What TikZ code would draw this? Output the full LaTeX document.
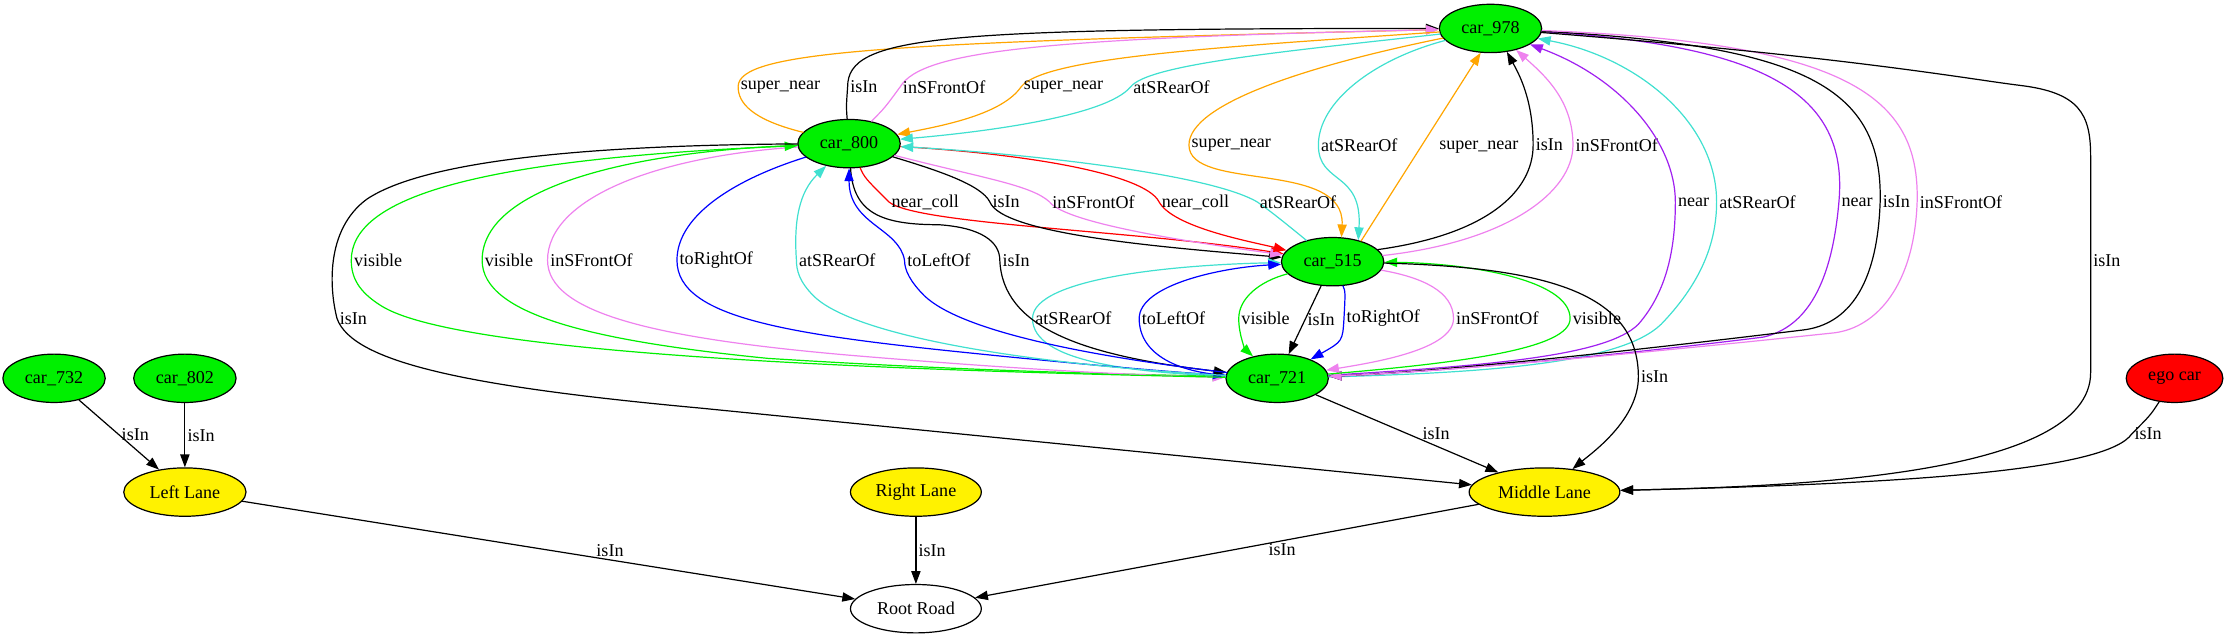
\documentclass[tikz,border=0pt]{standalone}
\usepackage{fontspec}
\setmainfont{Liberation Serif}
\usepackage{xcolor}
\usetikzlibrary{shapes.geometric,arrows.meta}
\definecolor{gvgreen}{RGB}{0,240,0}
\definecolor{gvorange}{RGB}{255,165,0}
\definecolor{gvviolet}{RGB}{238,130,238}
\definecolor{gvturq}{RGB}{64,224,208}
\definecolor{gvpurple}{RGB}{160,32,240}

\begin{document}
\begin{tikzpicture}[x=1pt,y=-1pt,line cap=round,line join=round,>={Triangle[length=9pt,width=6.5pt]},font=\fontsize{12.7}{15}\selectfont,
  car/.style={ellipse,draw,line width=0.85pt,fill=gvgreen,minimum width=72pt,minimum height=34pt,inner sep=0pt},
  lane/.style={ellipse,draw,line width=0.85pt,fill=yellow,minimum height=34pt,inner sep=0pt},
  e/.style={->,line width=0.85pt},
  lbl/.style={inner sep=1.5pt,text=black}]
\useasboundingbox (0,0) rectangle (1568,449);
% nodes
\node[car] (c978) at (1048,20) {car\_978};
\node[car] (c800) at (597,101) {car\_800};
\node[car] (c515) at (937,184) {car\_515};
\node[car] (c721) at (898,266) {car\_721};
\node[car] (c732) at (38,266) {car\_732};
\node[car] (c802) at (130,266) {car\_802};
\node[car,fill=red,minimum width=68pt] (cego) at (1529,266) {ego car};
\node[lane,minimum width=86pt] (lleft) at (130,346) {Left Lane};
\node[lane,minimum width=92pt] (lright) at (644,346) {Right Lane};
\node[lane,minimum width=106pt] (lmid) at (1086,346) {Middle Lane};
\node[lane,fill=white,minimum width=92pt] (root) at (644,428) {Root Road};
% car_800 -> car_978
\draw[e,gvorange] (c800) .. controls (528,84) and (519,72) .. (519,61) node[lbl,right]{super\_near} .. controls (519,36) and (620,30) .. (c978);
\draw[e] (c800) .. controls (595,75) .. (596,61) node[lbl,right]{isIn} .. controls (596,25) and (660,20) .. (c978);
\draw[e,gvviolet] (c800) .. controls (622,76) .. (633,61) node[lbl,right]{inSFrontOf} .. controls (648,36) and (730,27) .. (c978);
% car_978 -> car_800
\draw[e,gvorange] (c978) .. controls (860,33) and (735,40) .. (718,61) node[lbl,right]{super\_near} .. controls (705,80) and (665,88) .. (c800);
\draw[e,gvturq] (c978) .. controls (905,36) and (808,45) .. (795,61) node[lbl,right]{atSRearOf} .. controls (778,82) and (690,93) .. (c800);
% car_978 -> car_515
\draw[e,gvorange] (c978) .. controls (925,45) and (836,72) .. (836,102) node[lbl,right]{super\_near} .. controls (836,135) and (946,112) .. (c515.70);
\draw[e,gvturq] (c978) .. controls (965,42) and (927,72) .. (927,102) node[lbl,right]{atSRearOf} .. controls (927,130) and (958,120) .. (c515.40);
% car_515 -> car_978
\draw[e,gvorange] (c515.36) -- node[lbl,right=11pt]{super\_near} (c978.-112);
\draw[e] (c515.15) .. controls (1045,165) and (1078,135) .. (1078,102) node[lbl,right]{isIn} .. controls (1078,70) and (1068,52) .. (c978.-55);
\draw[e,gvviolet] (c515.7) .. controls (1060,170) and (1106,135) .. (1106,102) node[lbl,right]{inSFrontOf} .. controls (1106,70) and (1085,52) .. (c978.-40);
% car_800 -> car_515
\draw[e,red] (c800) .. controls (608,125) .. (625,142) node[lbl,right]{near\_coll} .. controls (645,158) and (800,162) .. (c515);
\draw[e] (c800) .. controls (660,120) and (690,130) .. (696,142) node[lbl,right]{isIn} .. controls (705,165) and (820,174) .. (c515);
\draw[e,gvviolet] (c800) .. controls (690,125) and (725,130) .. (738,142) node[lbl,right]{inSFrontOf} .. controls (750,158) and (850,172) .. (c515);
\draw[e,red] (c800) .. controls (720,108) and (805,122) .. (815,142) node[lbl,right]{near\_coll} .. controls (825,160) and (880,170) .. (c515);
% car_515 -> car_800
\draw[e,gvturq] (c515) .. controls (910,162) and (893,148) .. (884,142) node[lbl,right]{atSRearOf} .. controls (850,122) and (720,108) .. (c800);
% car_721 -> car_978
\draw[e,gvpurple] (c721) .. controls (1050,257) and (1130,250) .. (1152,228) .. controls (1172,205) and (1178,175) .. (1178,142) node[lbl,right]{near} .. controls (1178,100) and (1140,55) .. (c978.-22);
\draw[e,gvturq] (c721) .. controls (1050,262) and (1140,255) .. (1168,228) .. controls (1195,200) and (1207,172) .. (1207,142) node[lbl,right]{atSRearOf} .. controls (1207,85) and (1150,40) .. (c978.-12);
% car_978 -> car_721
\draw[e,gvpurple] (c978) .. controls (1240,32) and (1300,65) .. (1293,142) node[lbl,right]{near} .. controls (1288,200) and (1270,230) .. (1240,237) .. controls (1120,252) and (1000,262) .. (c721);
\draw[e] (c978) .. controls (1270,32) and (1324,62) .. (1322,142) node[lbl,right]{isIn} .. controls (1320,200) and (1300,228) .. (1268,232) .. controls (1120,250) and (1000,262) .. (c721);
\draw[e,gvviolet] (c978) .. controls (1300,30) and (1350,68) .. (1348,142) node[lbl,right]{inSFrontOf} .. controls (1346,200) and (1320,230) .. (1290,234) .. controls (1120,252) and (1000,262) .. (c721);
% car_978 -> Middle Lane
\draw[e] (c978) .. controls (1300,40) and (1380,55) .. (1420,60) .. controls (1462,65) and (1470,80) .. (1470,110) -- (1470,183) node[lbl,right]{isIn} -- (1470,262) .. controls (1470,335) and (1260,342) .. (lmid);
% car_515 -> car_721
\draw[e,gvgreen] (c515) .. controls (885,198) and (871,210) .. (871,224) node[lbl,right]{visible} .. controls (871,236) and (876,246) .. (c721);
\draw[e] (c515) -- node[lbl,right]{isIn} (c721);
\draw[e,blue] (c515) .. controls (946,205) .. (945,224) node[lbl,right]{toRightOf} .. controls (944,240) .. (c721);
\draw[e,gvviolet] (c515) .. controls (1000,195) and (1022,205) .. (1022,224) node[lbl,right]{inSFrontOf} .. controls (1022,246) and (965,255) .. (c721);
% car_721 -> car_515
\draw[e,gvgreen] (c721) .. controls (1030,255) and (1104,245) .. (1104,224) node[lbl,right]{visible} .. controls (1104,196) and (1030,185) .. (c515);
\draw[e,gvturq] (c721) .. controls (800,262) and (726,255) .. (726,224) node[lbl,right]{atSRearOf} .. controls (726,195) and (830,186) .. (c515);
\draw[e,blue] (c721) .. controls (830,262) and (801,250) .. (801,224) node[lbl,right]{toLeftOf} .. controls (801,200) and (860,188) .. (c515);
% car_515 -> Middle Lane
\draw[e] (c515) .. controls (1085,188) and (1152,205) .. (1152,265) node[lbl,right]{isIn} .. controls (1152,295) and (1120,318) .. (lmid);
\draw[e] (c721) -- node[lbl,right=9pt]{isIn} (lmid);
% car_800 -> car_721
\draw[e,gvgreen] (c800) .. controls (450,106) and (339,130) .. (339,183) node[lbl,right]{visible} .. controls (339,222) and (420,240) .. (540,252) .. controls (700,262) and (800,263) .. (c721);
\draw[e,gvviolet] (c800) .. controls (460,110) and (385,140) .. (385,183) node[lbl,right]{inSFrontOf} .. controls (385,220) and (460,238) .. (600,250) .. controls (720,260) and (800,264) .. (c721);
\draw[e,blue] (c800) .. controls (520,125) and (476,150) .. (476,183) node[lbl,right]{toRightOf} .. controls (476,225) and (560,236) .. (700,250) .. controls (780,258) and (830,262) .. (c721);
\draw[e] (c800) .. controls (600,150) and (620,158) .. (660,158) .. controls (690,160) and (703,170) .. (703,183) node[lbl,right]{isIn} .. controls (705,230) and (760,250) .. (c721);
% car_721 -> car_800
\draw[e,gvgreen] (c721) .. controls (600,260) and (320,248) .. (268,215) .. controls (252,205) and (247,195) .. (247,183) node[lbl,right]{visible} .. controls (247,140) and (330,112) .. (c800);
\draw[e,gvturq] (c721) .. controls (720,256) and (600,236) .. (572,208) .. controls (562,198) and (560,190) .. (560,183) node[lbl,right]{atSRearOf} .. controls (558,155) and (562,135) .. (c800);
\draw[e,blue] (c721) .. controls (760,250) and (675,232) .. (650,208) .. controls (640,198) and (636,190) .. (636,183) node[lbl,right]{toLeftOf} .. controls (632,160) and (597,158) .. (c800);
% car_800 -> Middle Lane
\draw[e] (c800) .. controls (420,102) and (300,112) .. (258,140) .. controls (228,162) and (232,205) .. (237,224) node[lbl,right]{isIn} .. controls (248,255) and (330,272) .. (493,287) -- (lmid);
% lanes
\draw[e] (c732) -- node[lbl,right]{isIn} (lleft);
\draw[e] (c802) -- node[lbl,right]{isIn} (lleft);
\draw[e] (cego) .. controls (1512,292) .. (1499,305) node[lbl,right]{isIn} .. controls (1482,330) and (1350,340) .. (lmid);
\draw[e] (lleft) -- node[lbl,pos=.6,above]{isIn} (root);
\draw[e] (lright) -- node[lbl,right]{isIn} (root);
\draw[e] (lmid) -- node[lbl,pos=.39,below]{isIn} (root);
\end{tikzpicture}
\end{document}
